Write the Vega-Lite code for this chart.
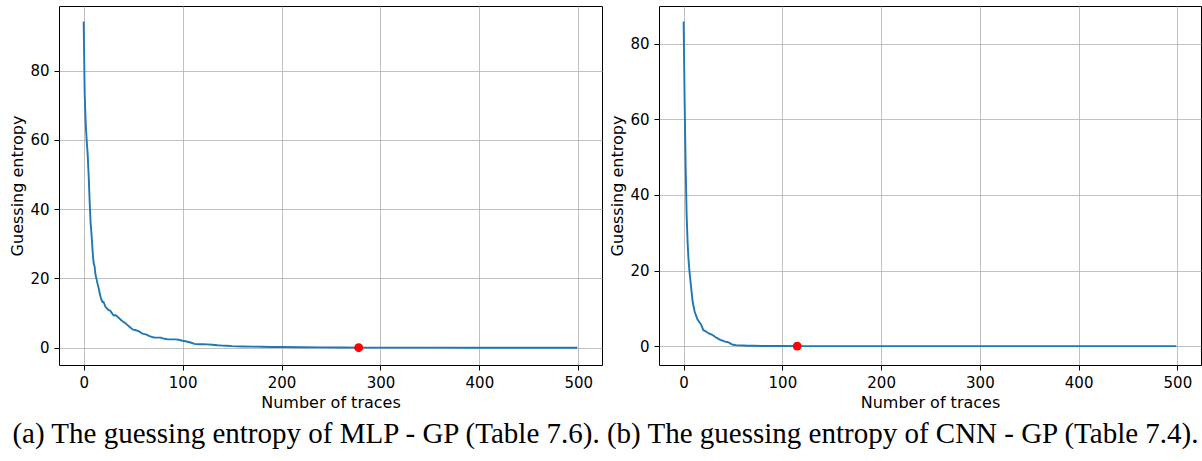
{
  "$schema": "https://vega.github.io/schema/vega-lite/v6.json",
  "background": "white",
  "padding": {"left": 9, "top": 5, "right": 0, "bottom": 0},
  "datasets": {
    "mlp": [
      {"x":0,"y":94.2},{"x":1,"y":73.5},{"x":2,"y":65},{"x":3,"y":60},{"x":4,"y":56},{"x":5,"y":50},{"x":6,"y":42.5},{"x":7,"y":36},{"x":8,"y":32.5},{"x":9,"y":28},
      {"x":10,"y":24.6},{"x":11,"y":23.5},{"x":12,"y":21},{"x":13,"y":19.8},{"x":14,"y":18.5},{"x":15,"y":17.4},{"x":16,"y":16},{"x":17,"y":14.8},{"x":18,"y":13.8},{"x":19,"y":13.2},
      {"x":20,"y":13.2},{"x":21,"y":12.6},{"x":22,"y":11.8},{"x":23,"y":11.5},{"x":24,"y":11.2},{"x":25,"y":10.9},{"x":26,"y":10.8},{"x":27,"y":10.6},{"x":28,"y":10.2},{"x":29,"y":9.8},
      {"x":30,"y":9.4},{"x":31,"y":9.3},{"x":32,"y":9.4},{"x":33,"y":9.2},{"x":34,"y":9.0},{"x":35,"y":8.7},{"x":36,"y":8.5},{"x":38,"y":7.9},{"x":40,"y":7.5},{"x":42,"y":7.1},
      {"x":44,"y":6.6},{"x":46,"y":6.1},{"x":48,"y":5.6},{"x":50,"y":5.2},{"x":52,"y":5.1},{"x":54,"y":4.9},{"x":56,"y":4.7},{"x":58,"y":4.3},{"x":60,"y":4.0},{"x":62,"y":3.9},
      {"x":64,"y":3.7},{"x":66,"y":3.4},{"x":68,"y":3.2},{"x":70,"y":3.0},{"x":72,"y":2.9},{"x":75,"y":2.9},{"x":78,"y":2.9},{"x":80,"y":2.7},{"x":83,"y":2.5},{"x":86,"y":2.4},
      {"x":90,"y":2.4},{"x":93,"y":2.4},{"x":96,"y":2.3},{"x":100,"y":2.0},{"x":104,"y":1.8},{"x":108,"y":1.5},{"x":112,"y":1.1},{"x":116,"y":1.0},{"x":120,"y":1.0},{"x":125,"y":0.95},
      {"x":130,"y":0.85},{"x":135,"y":0.7},{"x":140,"y":0.6},{"x":145,"y":0.55},{"x":150,"y":0.45},{"x":160,"y":0.35},{"x":170,"y":0.3},{"x":180,"y":0.28},{"x":190,"y":0.22},{"x":200,"y":0.18},
      {"x":220,"y":0.12},{"x":240,"y":0.08},{"x":260,"y":0.05},{"x":280,"y":0.03},{"x":300,"y":0.02},{"x":350,"y":0.01},{"x":400,"y":0},{"x":450,"y":0},{"x":499,"y":0}
    ],
    "cnn": [
      {"x":0,"y":85.9},{"x":1,"y":65},{"x":2,"y":48},{"x":3,"y":35},{"x":4,"y":27.5},{"x":5,"y":22.6},{"x":6,"y":19.5},{"x":7,"y":17},{"x":8,"y":14.5},{"x":9,"y":12},
      {"x":10,"y":10.6},{"x":11,"y":9.3},{"x":12,"y":8.5},{"x":13,"y":7.8},{"x":14,"y":7.1},{"x":15,"y":6.7},{"x":16,"y":6.3},{"x":17,"y":6.0},{"x":18,"y":5.5},{"x":19,"y":4.8},
      {"x":20,"y":4.2},{"x":22,"y":4.0},{"x":24,"y":3.6},{"x":26,"y":3.3},{"x":28,"y":3.1},{"x":30,"y":2.8},{"x":32,"y":2.4},{"x":34,"y":2.1},{"x":36,"y":1.8},{"x":38,"y":1.6},
      {"x":40,"y":1.4},{"x":42,"y":1.2},{"x":44,"y":1.1},{"x":46,"y":0.9},{"x":48,"y":0.6},{"x":50,"y":0.35},{"x":53,"y":0.25},{"x":56,"y":0.2},{"x":60,"y":0.15},{"x":65,"y":0.1},
      {"x":70,"y":0.08},{"x":80,"y":0.04},{"x":90,"y":0.02},{"x":100,"y":0.01},{"x":120,"y":0},{"x":200,"y":0},{"x":300,"y":0},{"x":400,"y":0},{"x":499,"y":0}
    ],
    "mlpPt": [{"x":278,"y":0}],
    "cnnPt": [{"x":115,"y":0}]
  },
  "title": {
    "text": "(a) The guessing entropy of MLP - GP (Table 7.6). (b) The guessing entropy of CNN - GP (Table 7.4).",
    "orient": "bottom",
    "anchor": "middle",
    "font": "Liberation Serif",
    "fontSize": 29,
    "fontWeight": "normal",
    "color": "black",
    "offset": 9
  },
  "spacing": 6,
  "hconcat": [
    {
      "width": 543,
      "height": 359,
      "layer": [
        {
          "data": {"name": "mlp"},
          "mark": {"type": "line", "color": "#1f77b4", "strokeWidth": 1.9, "interpolate": "linear"},
          "encoding": {
            "x": {"field": "x", "type": "quantitative", "title": "Number of traces",
                  "scale": {"domain": [-24.95, 523.95], "nice": false, "zero": false},
                  "axis": {"values": [0,100,200,300,400,500]}},
            "y": {"field": "y", "type": "quantitative", "title": "Guessing entropy",
                  "scale": {"domain": [-5.0, 98.7], "nice": false, "zero": false},
                  "axis": {"values": [0,20,40,60,80]}}
          }
        },
        {
          "data": {"name": "mlpPt"},
          "mark": {"type": "point", "filled": true, "color": "#ff0000", "opacity": 1, "size": 80},
          "encoding": {
            "x": {"field": "x", "type": "quantitative"},
            "y": {"field": "y", "type": "quantitative"}
          }
        }
      ]
    },
    {
      "width": 542,
      "height": 359,
      "layer": [
        {
          "data": {"name": "cnn"},
          "mark": {"type": "line", "color": "#1f77b4", "strokeWidth": 1.9, "interpolate": "linear"},
          "encoding": {
            "x": {"field": "x", "type": "quantitative", "title": "Number of traces",
                  "scale": {"domain": [-24.95, 523.95], "nice": false, "zero": false},
                  "axis": {"values": [0,100,200,300,400,500]}},
            "y": {"field": "y", "type": "quantitative", "title": "Guessing entropy",
                  "scale": {"domain": [-5.0, 90.0], "nice": false, "zero": false},
                  "axis": {"values": [0,20,40,60,80]}}
          }
        },
        {
          "data": {"name": "cnnPt"},
          "mark": {"type": "point", "filled": true, "color": "#ff0000", "opacity": 1, "size": 80},
          "encoding": {
            "x": {"field": "x", "type": "quantitative"},
            "y": {"field": "y", "type": "quantitative"}
          }
        }
      ]
    }
  ],
  "config": {
    "view": {"stroke": "black", "strokeWidth": 1},
    "axis": {
      "domain": false,
      "labelFont": "DejaVu Sans",
      "labelFontSize": 15,
      "labelColor": "black",
      "tickColor": "black",
      "tickSize": 5,
      "labelPadding": 5,
      "titleFont": "DejaVu Sans",
      "titleFontSize": 16,
      "titleFontWeight": "normal",
      "titleColor": "black",
      "titlePadding": 4,
      "gridColor": "#b0b0b0",
      "gridWidth": 0.8,
      "gridOpacity": 1
    }
  }
}
